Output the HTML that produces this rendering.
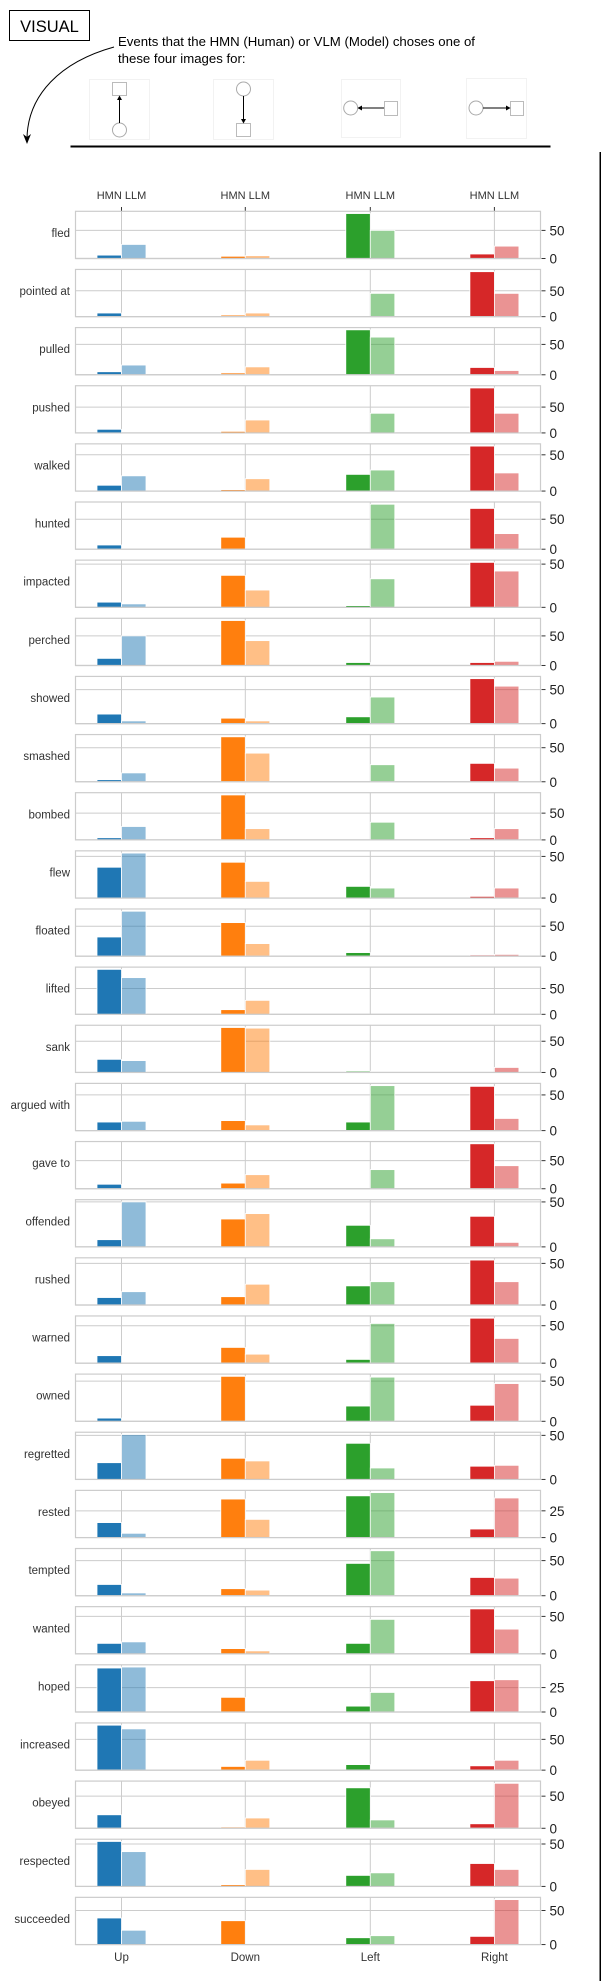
<!DOCTYPE html>
<html><head><meta charset="utf-8"><style>
html,body{margin:0;padding:0;background:#fff;}
svg{display:block;font-family:"Liberation Sans",sans-serif;}
</style></head><body>
<svg id="chart" width="601" height="1981" viewBox="0 0 601 1981" xmlns="http://www.w3.org/2000/svg">
<g>
<rect x="9.5" y="10.5" width="80" height="30" fill="#fff" stroke="#000" stroke-width="1"/>
<text x="49.5" y="32" font-size="16.5" text-anchor="middle" fill="#000">VISUAL</text>
<text x="118" y="46" font-size="13.2" fill="#000">Events that the HMN (Human) or VLM (Model) choses one of</text>
<text x="118" y="63" font-size="13.2" fill="#000">these four images for:</text>
<path d="M114,47 C60,62 28,95 27,138" fill="none" stroke="#000" stroke-width="1"/>
<path d="M23,134 L27,144 L31,134 L27,137 Z" fill="#000"/>
<g>
<rect x="89.5" y="79.5" width="60" height="60" fill="#fff" stroke="#f2f2f2"/>
<rect x="112.5" y="82.5" width="14" height="13" fill="#fff" stroke="#bbb"/>
<circle cx="119.5" cy="130" r="7" fill="#fff" stroke="#aaa"/>
<line x1="119.5" y1="123" x2="119.5" y2="98" stroke="#000" stroke-width="1"/>
<path d="M117,100 L119.5,95.5 L122,100 Z" fill="#000"/>
</g>
<g>
<rect x="213.5" y="79.5" width="60" height="60" fill="#fff" stroke="#f2f2f2"/>
<circle cx="243.5" cy="89" r="7" fill="#fff" stroke="#aaa"/>
<rect x="236.5" y="123.5" width="14" height="13" fill="#fff" stroke="#bbb"/>
<line x1="243.5" y1="96" x2="243.5" y2="121" stroke="#000" stroke-width="1"/>
<path d="M241,119 L243.5,123.5 L246,119 Z" fill="#000"/>
</g>
<g>
<rect x="341.5" y="79.5" width="59" height="58" fill="#fff" stroke="#f2f2f2"/>
<circle cx="350.7" cy="108" r="7" fill="#fff" stroke="#aaa"/>
<rect x="384.5" y="101.5" width="13" height="14" fill="#fff" stroke="#bbb"/>
<line x1="358" y1="108" x2="384" y2="108" stroke="#000" stroke-width="1"/>
<path d="M362,105.5 L357.5,108 L362,110.5 Z" fill="#000"/>
</g>
<g>
<rect x="466.5" y="78.5" width="60" height="60" fill="#fff" stroke="#f2f2f2"/>
<circle cx="476" cy="108" r="7" fill="#fff" stroke="#aaa"/>
<rect x="510.5" y="101.5" width="13" height="14" fill="#fff" stroke="#bbb"/>
<line x1="483" y1="108" x2="510" y2="108" stroke="#000" stroke-width="1"/>
<path d="M506,105.5 L510.5,108 L506,110.5 Z" fill="#000"/>
</g>
<rect x="70.5" y="145.5" width="480" height="2" fill="#000"/>
<rect x="599.5" y="152" width="1.5" height="1829" fill="#000"/>
</g>
<g id="plots"></g>
</svg>
<script>
const verbs = ["fled","pointed at","pulled","pushed","walked","hunted","impacted","perched","showed","smashed","bombed","flew","floated","lifted","sank","argued with","gave to","offended","rushed","warned","owned","regretted","rested","tempted","wanted","hoped","increased","obeyed","respected","succeeded"];
const directions = ["Up","Down","Left","Right"];
const hmnUp    = [6,7,5,7,8,7,6,12,14,3,4,37,32,87,21,12,8,8,9,10,4,19,14,16,14,45,73,21,53,39];
const hmnDown  = [4,3,3,3,2,20,37,76,8,66,84,43,56,9,72,14,10,31,10,21,56,24,36,10,7,15,6,2,2,35];
const hmnLeft  = [80,0,74,0,23,0,2,5,10,0,0,14,6,0,2,12,0,24,23,5,19,41,39,46,14,6,9,63,13,10];
const hmnRight = [8,87,12,87,62,68,52,5,66,27,4,2,2,0,0,62,80,34,54,60,20,15,8,26,60,32,7,7,27,12];
const llmUp    = [25,0,16,0,21,0,4,50,4,13,25,54,75,71,19,13,0,50,16,0,0,51,4,4,16,46,67,0,41,21];
const llmDown  = [5,7,13,25,17,0,20,42,4,42,21,20,21,27,71,8,25,37,25,12,0,21,17,8,4,0,16,16,20,0];
const llmLeft  = [50,45,62,38,29,75,33,0,39,25,33,12,0,0,0,63,34,9,28,53,55,13,42,64,46,20,0,13,16,13];
const llmRight = [22,45,7,38,25,26,42,7,55,20,21,12,3,0,8,17,41,5,28,33,47,16,37,25,33,33,16,70,20,66];
const tickSteps = [50,50,50,50,50,50,50,50,50,50,50,50,50,50,50,50,50,50,50,50,50,50,25,50,50,25,50,50,50,50];

const colors = ["#1f77b4","#ff7f0e","#2ca02c","#d62728"];
const NS = "http://www.w3.org/2000/svg";
const g = document.getElementById("plots");
const axL = 75.5, axR = 540.5, top0 = 211.3, pitch = 58.14, axH = 47.2;
const centers = [121.5, 245.3, 370.3, 494.4];
const xCenter = i => centers[i];
function mk(tag, attrs){const e=document.createElementNS(NS,tag);for(const k in attrs)e.setAttribute(k,attrs[k]);return e;}
const hmnAll=[hmnUp,hmnDown,hmnLeft,hmnRight], llmAll=[llmUp,llmDown,llmLeft,llmRight];

// top labels
directions.forEach((d,i)=>{
  const t=mk("text",{x:xCenter(i),y:199,"font-size":11,"text-anchor":"middle",fill:"#333"});
  
  
  t.textContent="HMN LLM"; g.appendChild(t);
  const tk=mk("line",{x1:xCenter(i),x2:xCenter(i),y1:207,y2:211,stroke:"#333","stroke-width":1});
  
  
  g.appendChild(tk);
  const b=mk("text",{x:xCenter(i),y:1961,"font-size":11.5,"text-anchor":"middle",fill:"#333"});
  
  
  b.textContent=d; g.appendChild(b);
});

verbs.forEach((v,p)=>{
  const top=top0+p*pitch, bot=top+axH;
  let mx=0; for(let i=0;i<4;i++){mx=Math.max(mx,hmnAll[i][p],llmAll[i][p]);}
  const ymax=mx*1.05;
  const yS=val=>bot-val/ymax*axH;
  const pg=mk("g",{});
  
  
  g.appendChild(pg);
  const bg=mk("rect",{x:axL,y:top,width:axR-axL,height:axH,fill:"#fff",stroke:"#cccccc","stroke-width":1.2});
  
  
  pg.appendChild(bg);
  centers.forEach((c,i)=>{
    const gl=mk("line",{x1:xCenter(i),x2:xCenter(i),y1:top,y2:bot,stroke:"#cccccc","stroke-width":1});
    
    
    pg.appendChild(gl);
  });
  const step=tickSteps[p];
  for(let t=0;t<=ymax+1e-9;t+=step){
    const y=yS(t);
    if(t>0){
      const hl=mk("line",{x1:axL,x2:axR,y1:y,y2:y,stroke:"#cccccc","stroke-width":1});
      
      
      pg.appendChild(hl);
    }
    const tk=mk("line",{x1:axR+1,x2:axR+5,y1:y,y2:y,stroke:"#333","stroke-width":1});
    
    
    pg.appendChild(tk);
    const tl=mk("text",{x:axR+9,y:y+5,"font-size":13.5,fill:"#222"});
    
    
    tl.textContent=String(t); pg.appendChild(tl);
  }
  for(let i=0;i<4;i++){
    const h=hmnAll[i][p], l=llmAll[i][p];
    const c=xCenter(i);
    if(h>0){
      const r=mk("rect",{x:c-24.5,y:yS(h),width:24.5,height:bot-yS(h),fill:colors[i],stroke:"#fff","stroke-width":0.8});
      
      
      pg.appendChild(r);
    }
    if(l>0){
      const r=mk("rect",{x:c,y:yS(l),width:24.5,height:bot-yS(l),fill:colors[i],"fill-opacity":0.5,stroke:"#fff","stroke-width":0.8});
      
      
      pg.appendChild(r);
    }
  }
  const bl=mk("line",{x1:axL,x2:axR,y1:bot,y2:bot,stroke:"#cccccc","stroke-width":1.2});
  
  
  pg.appendChild(bl);
  const lab=mk("text",{x:70,y:top+axH/2+2,"font-size":11.5,"text-anchor":"end",fill:"#333"});
  
  
  lab.textContent=v; pg.appendChild(lab);
});
</script>
</body></html>
